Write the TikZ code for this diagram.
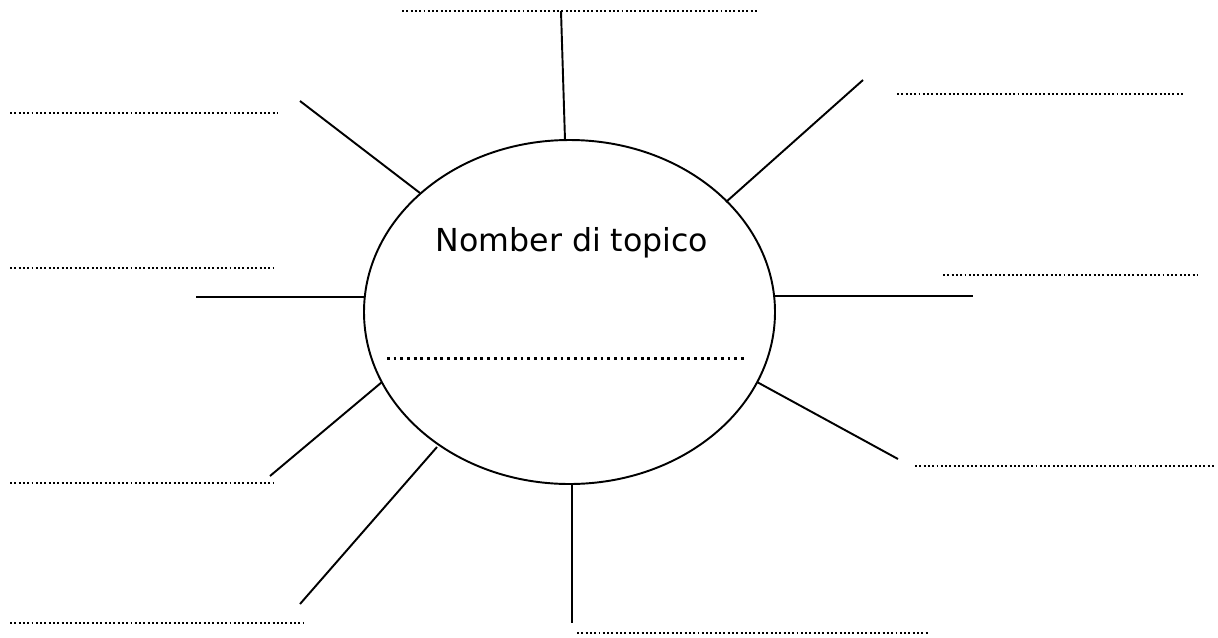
\documentclass[tikz,border=0pt]{standalone}
\usepackage{fontspec}
\setmainfont{DejaVu Sans}
\usetikzlibrary{shapes.geometric}
\tikzset{
	spoke/.style={line width=1.1pt},
	fillin/.style={line width=0.6pt, dash pattern=on 1.1pt off 1.35pt},
	bigfillin/.style={line width=1.7pt, dash pattern=on 1.6pt off 2.2pt},
}

\begin{document}
\begin{tikzpicture}[x=0.02cm, y=-0.02cm]
		%%%%% START %%%%%
		\useasboundingbox (0, 0) rectangle (1218, 637);
		
		\node[draw, ellipse, line width=1.1pt, inner sep=0, minimum width=411*0.02cm, minimum height=344*0.02cm] (topic) at (569.5, 312) {};
		\node[anchor=base, font=\fontsize{18}{21}\selectfont] (title) at (572, 251) {Nomber di topico};
		\draw[bigfillin] (387, 358) -- (747, 358);
		
		% spokes
		\coordinate (s1) at (565, 140);  \coordinate (e1) at (561, 11);
		\coordinate (s2) at (726, 202);  \coordinate (e2) at (863, 80);
		\coordinate (s3) at (775, 296);  \coordinate (e3) at (973, 296);
		\coordinate (s4) at (757, 382);  \coordinate (e4) at (898, 459);
		\coordinate (s5) at (572, 484);  \coordinate (e5) at (572, 623);
		\coordinate (s6) at (437, 447);  \coordinate (e6) at (300, 604);
		\coordinate (s7) at (382, 382);  \coordinate (e7) at (270, 476);
		\coordinate (s8) at (364, 297);  \coordinate (e8) at (196, 297);
		\coordinate (s9) at (420, 193);  \coordinate (e9) at (300, 101);
		
		\foreach \i in {1,...,9}
			\draw[spoke] (s\i) -- (e\i);
		
		% blank lines
		\draw[fillin] (402, 11) -- (758, 11);
		\draw[fillin] (897, 94) -- (1185, 94);
		\draw[fillin] (10, 113) -- (277, 113);
		\draw[fillin] (10, 268) -- (273, 268);
		\draw[fillin] (943, 275) -- (1197, 275);
		\draw[fillin] (915, 466) -- (1215, 466);
		\draw[fillin] (10, 483) -- (273, 483);
		\draw[fillin] (10, 623) -- (304, 623);
		\draw[fillin] (577, 633) -- (929, 633);
		
		%%%%% END %%%%%
	\end{tikzpicture}
\end{document}
